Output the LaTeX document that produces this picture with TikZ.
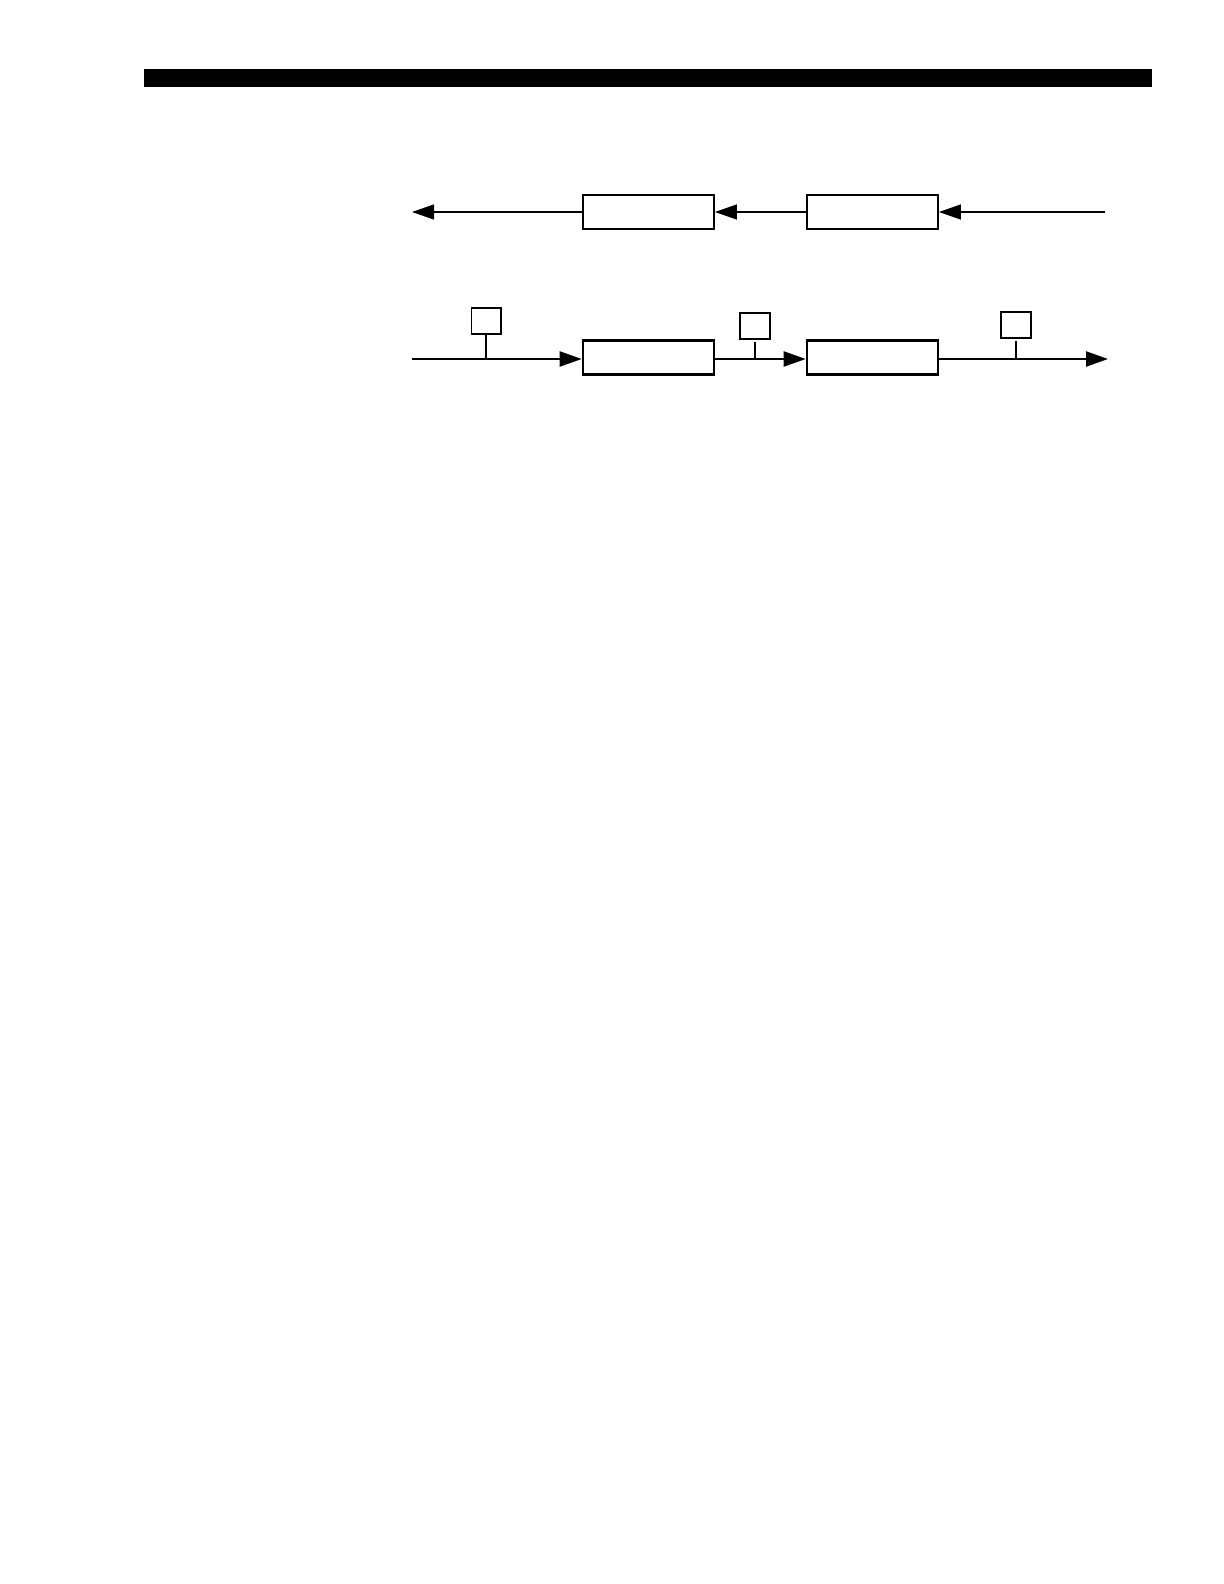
\documentclass[tikz,border=0pt]{standalone}
\usetikzlibrary{arrows.meta}
\begin{document}
\begin{tikzpicture}[x=0.5pt,y=-0.5pt,
		block/.style={draw,line width=1.1pt,minimum width=65.5pt,minimum height=17pt,inner sep=0pt},
		tag/.style={draw,line width=0.9pt,minimum width=14.8pt,minimum height=13.3pt,inner sep=0pt},
		flow/.style={-{Triangle[length=11pt,width=7.5pt]}}]
	\useasboundingbox (0,0) rectangle (1224,1584);
	\fill (144,69) rectangle (1152,87);
	% upper chain
	\node[block] (U1) at (648.3,212) {};
	\node[block] (U2) at (872.3,212) {};
	\coordinate (Uin) at (1105,212);
	\coordinate (Uout) at (412,212);
	\draw [line width=0.6pt,flow] (Uin) to (U2.east);
	\draw [line width=0.6pt,flow] (U2.west) to (U1.east);
	\draw [line width=0.6pt,flow] (U1.west) to (Uout);
	% lower chain
	\node[block] (L1) at (648.3,357.5) {};
	\node[block] (L2) at (872.3,357.5) {};
	\coordinate (Lin) at (412,359);
	\coordinate (Lout) at (1108,359);
	\draw [line width=1.1pt,flow] (Lin) to (L1.west |- Lin);
	\draw [line width=1.1pt,flow] (L1.east |- Lin) to (L2.west |- Lin);
	\draw [line width=1.1pt,flow] (L2.east |- Lin) to (Lout);
	% tags on the lower chain
	\node[tag] (Ta) at (486.3,321) {};
	\node[tag] (Tb) at (755,326) {};
	\node[tag] (Tc) at (1016,325) {};
	\coordinate (Ja) at (486.3,359);
	\coordinate (Jb) at (755,359);
	\coordinate (Jc) at (1016,359);
	\draw [line width=1.1pt] (Ta.south) to (Ja);
	\draw [line width=1.1pt,shorten <=1pt] (Tb.south) to (Jb);
	\draw [line width=1.1pt,shorten <=1pt] (Tc.south) to (Jc);
\end{tikzpicture}
\end{document}
